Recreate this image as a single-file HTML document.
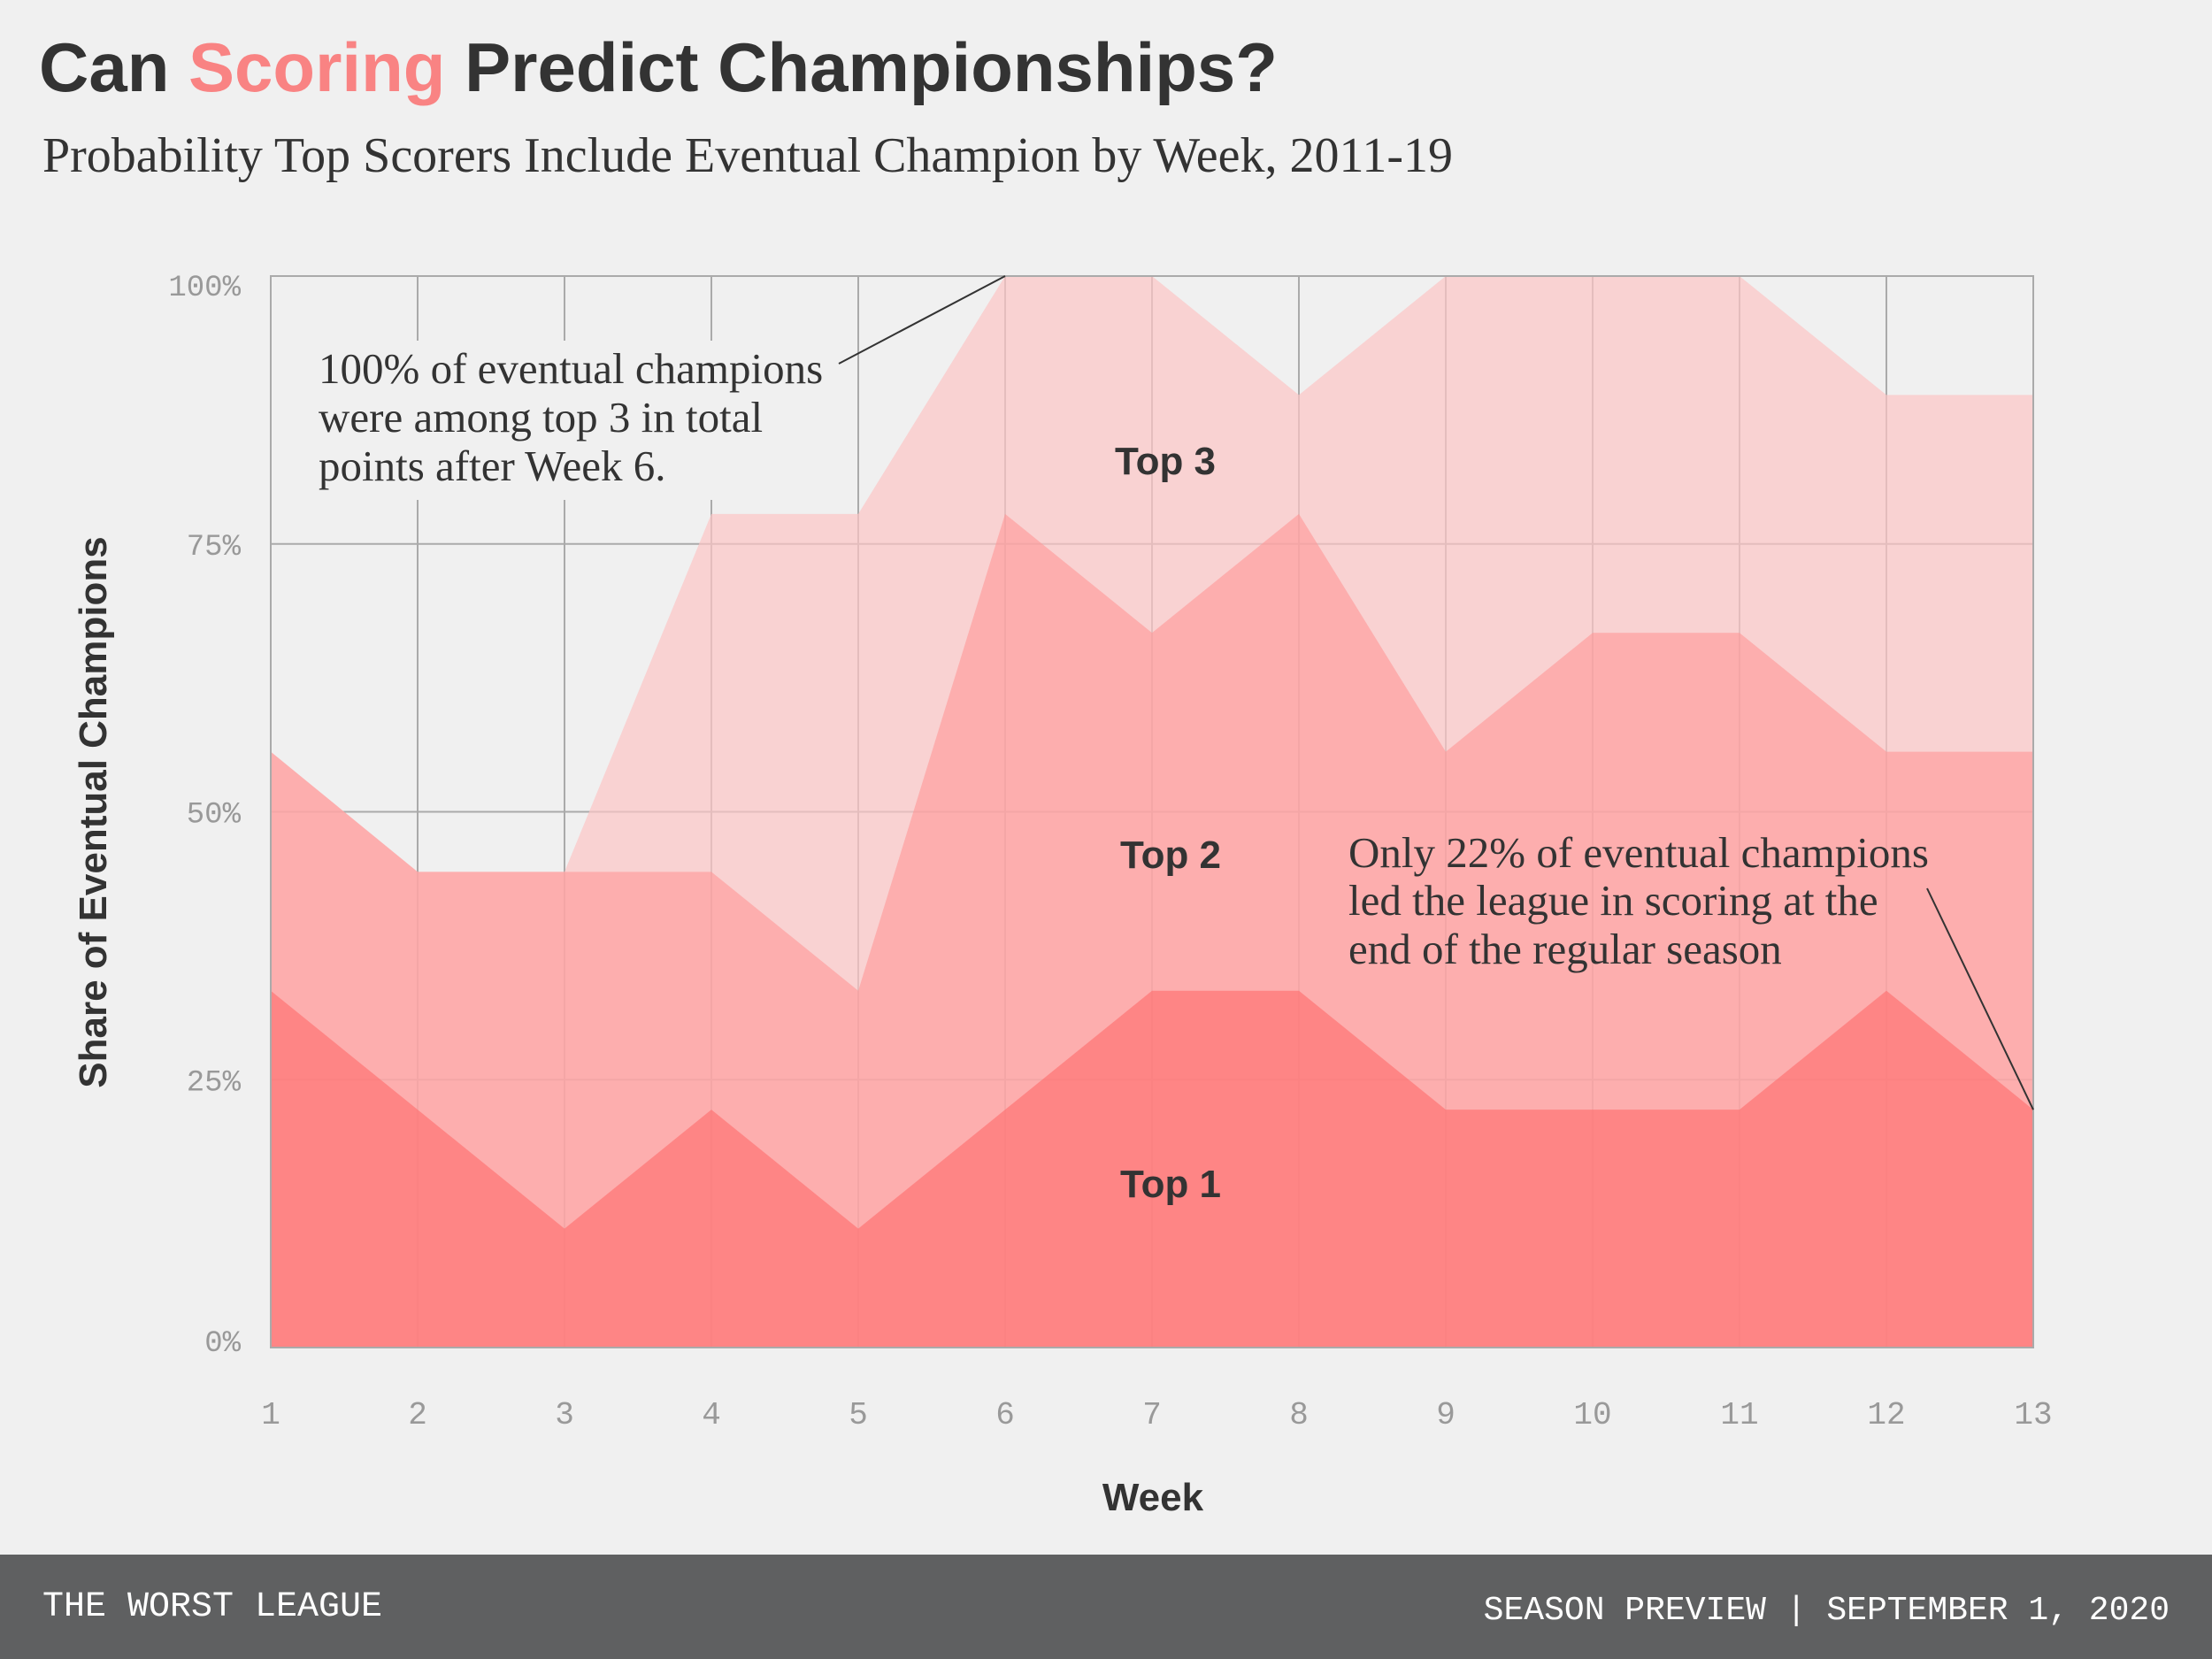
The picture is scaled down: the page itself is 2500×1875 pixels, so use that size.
<!DOCTYPE html>
<html><head><meta charset="utf-8"><style>
html,body{margin:0;padding:0;background:#f0f0f0;}
svg{display:block;}
</style></head><body>
<svg id="chart" width="2500" height="1875" xmlns="http://www.w3.org/2000/svg">
<rect x="0" y="0" width="2500" height="1875" fill="#f0f0f0"/>
<text x="44" y="103" font-family="Liberation Sans, sans-serif" font-weight="bold" font-size="78" fill="#333">Can <tspan fill="#f98383">Scoring</tspan> Predict Championships?</text>
<text x="48" y="194" font-family="Liberation Serif, serif" font-size="56" fill="#333">Probability Top Scorers Include Eventual Champion by Week, 2011-19</text>
<g id="plot"></g>
<rect x="0" y="1757" width="2500" height="118" fill="#5f6061"/>
<text x="48" y="1826" font-family="Liberation Mono, monospace" font-size="40" fill="#fff">THE WORST LEAGUE</text>
<text x="2452" y="1830" text-anchor="end" font-family="Liberation Mono, monospace" font-size="38" fill="#fff">SEASON PREVIEW | SEPTEMBER 1, 2020</text>
</svg>
<script>
const weeks=[1,2,3,4,5,6,7,8,9,10,11,12,13];
const top1=[33.3,22.2,11.1,22.2,11.1,22.2,33.3,33.3,22.2,22.2,22.2,33.3,22.2];
const top2=[55.6,44.4,44.4,44.4,33.3,77.8,66.7,77.8,55.6,66.7,66.7,55.6,55.6];
const top3=[55.6,44.4,44.4,77.8,77.8,100,100,88.9,100,100,100,88.9,88.9];
const yTicks=[0,25,50,75,100];
const yTickLabels=["0%","25%","50%","75%","100%"];
const NS="http://www.w3.org/2000/svg";
const L=306,R=2298,T=312,B=1523;
const xs=w=>L+(w-1)*(R-L)/12;
const ys=v=>B-v/100*(B-T);
const g=document.getElementById('plot');
function mk(tag,attrs){const e=document.createElementNS(NS,tag);for(const k in attrs)e.setAttribute(k,attrs[k]);g.appendChild(e);return e;}
function area(vals,color,name){
  let d='M'+xs(weeks[0])+','+ys(0);
  weeks.forEach((w,i)=>{d+=' L'+xs(w)+','+ys(vals[i]);});
  d+=' L'+xs(weeks[weeks.length-1])+','+ys(0)+' Z';
  const p=mk('path',{d:d,fill:color});
  
  
}
yTicks.forEach((v,i)=>{
  const l=mk('line',{x1:L,x2:R,y1:ys(v),y2:ys(v),stroke:'#aaa','stroke-width':2});
  
  
  const dy=v===100?22:(v===0?4:12);
  const t=mk('text',{x:272,y:ys(v)+dy,'text-anchor':'end','font-family':'Liberation Mono, monospace','font-size':34,fill:'#999'});
  t.textContent=yTickLabels[i];
  
  
});
weeks.forEach(w=>{
  const l=mk('line',{x1:xs(w),x2:xs(w),y1:T,y2:B,stroke:'#aaa','stroke-width':2});
  
  
  const t=mk('text',{x:xs(w),y:1609,'text-anchor':'middle','font-family':'Liberation Mono, monospace','font-size':36,fill:'#999'});
  t.textContent=w;
  
  
});
area(top3,'rgba(252,196,196,0.7)','area-top3');
area(top2,'rgba(255,150,150,0.6)','area-top2');
area(top1,'rgba(255,110,110,0.65)','area-top1');
const fr=mk('rect',{x:L,y:T,width:R-L,height:B-T,fill:'none',stroke:'#aaa','stroke-width':2});


function txt(x,y,s,attrs,name){const t=mk('text',Object.assign({x:x,y:y},attrs));t.textContent=s;
  
  return t;}
const lab={'text-anchor':'middle','font-family':'Liberation Sans, sans-serif','font-weight':'bold','font-size':44,fill:'#333'};
txt(1317,536,'Top 3',lab,'label-top3');
txt(1323,981,'Top 2',lab,'label-top2');
txt(1323,1353,'Top 1',lab,'label-top1');
txt(1303,1707,'Week',lab,'x-axis-title');
const yt=txt(0,0,'Share of Eventual Champions',lab,'y-axis-title');
yt.setAttribute('transform','translate(120,918) rotate(-90)');
const bg=mk('rect',{x:352,y:385,width:590,height:180,fill:'#f0f0f0'});


const an={'font-family':'Liberation Serif, serif','font-size':49,fill:'#333'};
txt(360,433,'100% of eventual champions',an,'annotation-week6-line1');
txt(360,488,'were among top 3 in total',an,'annotation-week6-line2');
txt(360,543,'points after Week 6.',an,'annotation-week6-line3');
txt(1524,980,'Only 22% of eventual champions',an,'annotation-week13-line1');
txt(1524,1034,'led the league in scoring at the',an,'annotation-week13-line2');
txt(1524,1089,'end of the regular season',an,'annotation-week13-line3');
const l1=mk('line',{x1:948,y1:411,x2:xs(6),y2:ys(100),stroke:'#333','stroke-width':2});


const l2=mk('line',{x1:2178,y1:1004,x2:xs(13),y2:ys(top1[12]),stroke:'#333','stroke-width':2});


</script>
</body></html>
